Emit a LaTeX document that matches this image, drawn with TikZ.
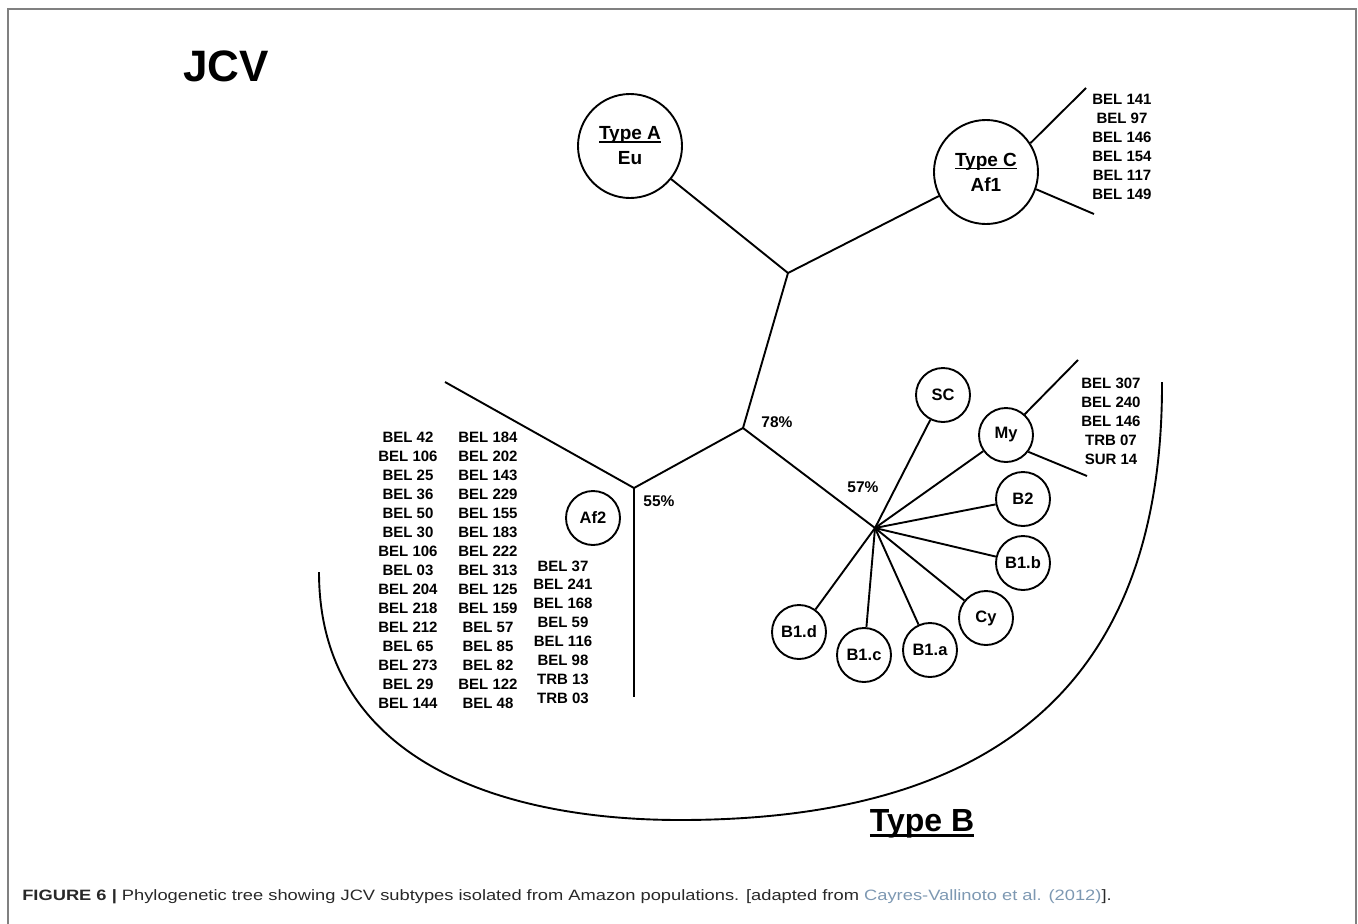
\documentclass[tikz,border=0pt]{standalone}
\usepackage{fontspec}
\setmainfont{Liberation Sans}
\newfontfamily\capfont[FakeStretch=1.22]{Liberation Sans}
\usepackage{xcolor}
\definecolor{capgray}{RGB}{40,40,40}
\definecolor{refblue}{RGB}{125,152,178}
\newcommand{\typeline}[3]{\leavevmode\setbox0\hbox{#3}\rlap{\rule[-#2]{\wd0}{#1}}\box0}

\begin{document}
\begin{tikzpicture}[x=1pt, y=-1pt, line width=1.9pt,
	main/.style = {draw, circle, inner sep=0pt, minimum size=54pt, font=\bfseries\fontsize{16.5}{18}\selectfont},
	big/.style = {draw, circle, inner sep=0pt, minimum size=104pt, align=center, font=\bfseries\fontsize{19}{25}\selectfont},
	strains/.style = {align=center, font=\bfseries\fontsize{15}{19}\selectfont},
	pct/.style = {font=\bfseries\fontsize{15.5}{17}\selectfont}]
		\useasboundingbox (0,0) rectangle (1358,924);
		\draw[line width=1.3pt, gray] (8,924) -- (8,9) -- (1356,9) -- (1356,924);
		\node [font=\bfseries\fontsize{44}{50}\selectfont] (jcv) at (226,66) {JCV};

		\node [big] (typeA) at (630,146) {\typeline{1.5pt}{3pt}{Type A}\\Eu};
		\node [big] (typeC) at (986,172) {\typeline{1.5pt}{3pt}{Type C}\\Af1};
		\coordinate (j1) at (788,273);
		\coordinate (j2) at (743,428);
		\coordinate (j3) at (634,488);
		\coordinate (j4) at (875,528);
		\coordinate (c1) at (1086,88);
		\coordinate (c2) at (1094,214);
		\coordinate (af2top) at (445,382);
		\coordinate (af2bot) at (634,697);
		\coordinate (my1) at (1078,360);
		\coordinate (my2) at (1087,476);

		\node [main] (af2) at (593,518) {Af2};
		\node [main] (sc) at (943,395) {SC};
		\node [main] (my) at (1006,435) {My};
		\node [main] (b2) at (1023,499) {B2};
		\node [main] (b1b) at (1023,563) {B1.b};
		\node [main] (cy) at (986,618) {Cy};
		\node [main] (b1a) at (930,650) {B1.a};
		\node [main] (b1c) at (864,655) {B1.c};
		\node [main] (b1d) at (799,632) {B1.d};

		\node [pct] (p78) at (777,422) {78\%};
		\node [pct] (p55) at (659,501) {55\%};
		\node [pct] (p57) at (863,487) {57\%};

		\node [strains] (listC) at (1122,147) {BEL 141\\BEL 97\\BEL 146\\BEL 154\\BEL 117\\BEL 149};
		\node [strains] (listMy) at (1111,421) {BEL 307\\BEL 240\\BEL 146\\TRB 07\\SUR 14};
		\node [strains] (listA) at (408,570) {BEL 42\\BEL 106\\BEL 25\\BEL 36\\BEL 50\\BEL 30\\BEL 106\\BEL 03\\BEL 204\\BEL 218\\BEL 212\\BEL 65\\BEL 273\\BEL 29\\BEL 144};
		\node [strains] (listB) at (488,570) {BEL 184\\BEL 202\\BEL 143\\BEL 229\\BEL 155\\BEL 183\\BEL 222\\BEL 313\\BEL 125\\BEL 159\\BEL 57\\BEL 85\\BEL 82\\BEL 122\\BEL 48};
		\node [strains, font=\bfseries\fontsize{15}{18.9}\selectfont] (listD) at (563,632) {BEL 37\\BEL 241\\BEL 168\\BEL 59\\BEL 116\\BEL 98\\TRB 13\\TRB 03};

		% tree
		\draw (typeA) -- (j1);
		\draw (j1) -- (typeC);
		\draw (typeC.33) -- (c1);
		\draw (typeC.-19) -- (c2);
		\draw (j1) -- (j2);
		\draw (j2) -- (j3);
		\draw (j3) -- (af2top);
		\draw (j3) -- (af2bot);
		\draw (j2) -- (j4);
		\foreach \n in {sc, my, b2, b1b, cy, b1a, b1c, b1d}
			\draw (j4) -- (\n);
		\draw (my.48) -- (my1);
		\draw (my.-37) -- (my2);

		% type B bracket
		\coordinate (bstart) at (319,572);
		\coordinate (bbot) at (680,820);
		\coordinate (bend) at (1162,382);
		\draw (bstart) .. controls (319,760) and (500,820) .. (bbot)
			.. controls (1000,820) and (1163,680) .. (bend);
		\node [font=\bfseries\fontsize{32}{36}\selectfont] (typeB) at (922,824) {\typeline{2.6pt}{5pt}{Type B}};

		\node [anchor=west, text=capgray, font=\capfont\fontsize{15}{17}\selectfont] (caption) at (18,897) {\textbf{FIGURE 6 |} Phylogenetic tree showing JCV subtypes isolated from Amazon populations. [adapted from \textcolor{refblue}{Cayres-Vallinoto et al. (2012)}].};
\end{tikzpicture}
\end{document}
